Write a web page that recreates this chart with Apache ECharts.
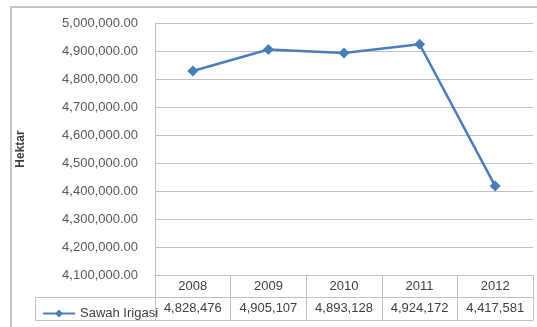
<!DOCTYPE html>
<html>
<head>
<meta charset="utf-8">
<script src="https://cdn.jsdelivr.net/npm/echarts@6/dist/echarts.min.js"></script>
<style>html,body{margin:0;padding:0;background:#fff;}#c{width:537px;height:327px;}</style>
</head>
<body>
<div id="c"></div>
<script>
const years = ['2008', '2009', '2010', '2011', '2012'];
const sawahIrigasi = [4828476, 4905107, 4893128, 4924172, 4417581];
const seriesName = 'Sawah Irigasi';
const yMin = 4100000, yMax = 5000000, yStep = 100000;

function fmtInt(v) { return v.toLocaleString('en-US'); }
function fmtDec(v) { return v.toLocaleString('en-US', {minimumFractionDigits: 2, maximumFractionDigits: 2}); }

const font = 'Liberation Sans, Arial, sans-serif';
const gridCol = '#c0c0c0';
const chart = echarts.init(document.getElementById('c'), null, {renderer: 'canvas'});
const tableLineAxis = (offset) => ({
  type: 'category', data: years, position: 'bottom', offset: offset,
  boundaryGap: true,
  axisLine: {show: true, lineStyle: {color: gridCol, width: 1}},
  axisTick: {show: false}, axisLabel: {show: false}, splitLine: {show: false}
});
chart.setOption({
  animation: false,
  backgroundColor: '#fff',
  grid: {left: 155, right: 4, top: 23, bottom: 52, containLabel: false},
  legend: {
    data: [seriesName], left: 37, top: 302, itemWidth: 32, itemHeight: 10,
    textStyle: {fontFamily: font, fontSize: 13, color: '#404040'}
  },
  graphic: [
    {type: 'rect', shape: {x: 11, y: 7, width: 600, height: 400}, style: {fill: 'none', stroke: '#c4c4c4', lineWidth: 2}, silent: true},
    {type: 'rect', shape: {x: 35.5, y: 297.5, width: 120, height: 23}, style: {fill: 'none', stroke: gridCol, lineWidth: 1}, silent: true}
  ],
  xAxis: [
    {
      type: 'category', data: years, boundaryGap: true, position: 'bottom',
      axisLine: {show: true, lineStyle: {color: gridCol, width: 1}},
      axisTick: {show: true, length: 45, inside: false, lineStyle: {color: gridCol}},
      axisLabel: {
        margin: 0, interval: 0,
        formatter: function (value, index) {
          return '{y|' + value + '}\n{v|' + fmtInt(sawahIrigasi[index]) + '}';
        },
        rich: {
          y: {fontFamily: font, fontSize: 13, color: '#404040', lineHeight: 22, height: 22},
          v: {fontFamily: font, fontSize: 13, color: '#404040', lineHeight: 23, height: 23}
        }
      },
      splitLine: {show: false}
    },
    tableLineAxis(22),
    tableLineAxis(45)
  ],
  yAxis: {
    type: 'value', min: yMin, max: yMax, interval: yStep,
    name: 'Hektar', nameLocation: 'middle', nameGap: 128, nameRotate: 90,
    nameTextStyle: {fontFamily: font, fontSize: 12, fontWeight: 'bold', color: '#404040'},
    axisLine: {show: true, lineStyle: {color: gridCol, width: 1}},
    axisTick: {show: false},
    axisLabel: {margin: 17, fontFamily: font, fontSize: 13, color: '#595959', formatter: fmtDec},
    splitLine: {show: true, lineStyle: {color: gridCol, width: 1}}
  },
  series: [{
    name: seriesName, type: 'line', data: sawahIrigasi, xAxisIndex: 0,
    symbol: 'diamond', symbolSize: 11,
    lineStyle: {color: '#4a7ebb', width: 2.5},
    itemStyle: {color: '#4a7ebb'}
  }]
});
</script>
</body>
</html>
